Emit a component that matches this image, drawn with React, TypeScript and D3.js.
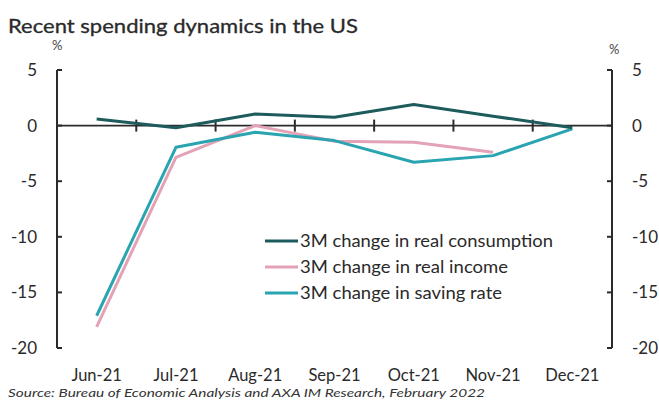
import React from "react";
import * as d3 from "d3";

const categories = ["Jun-21", "Jul-21", "Aug-21", "Sep-21", "Oct-21", "Nov-21", "Dec-21"];
const consumption: (number | null)[] = [0.6, -0.2, 1.05, 0.75, 1.9, 0.85, -0.2];
const realIncome: (number | null)[] = [-18.1, -2.85, 0, -1.4, -1.5, -2.4, null];
const savingRate: (number | null)[] = [-17.1, -1.95, -0.6, -1.35, -3.3, -2.7, -0.3];
const yTicks = [5, 0, -5, -10, -15, -20];
const seriesNames = [
  "3M change in real consumption",
  "3M change in real income",
  "3M change in saving rate",
];
const seriesColors = ["#1e5b5c", "#e3a2b6", "#2aa4b0"];
const legendWidths = [253, 208, 202];

const W = 659;
const H = 401;
const FONT = "Lato, 'Open Sans', sans-serif";

export default function App() {
  const left = 57;
  const right = 612;
  const x = d3.scaleBand<string>().domain(categories).range([left, right]);
  const y = d3.scaleLinear().domain([-20, 5]).range([348, 70]);
  const cx = (c: string) => (x(c) as number) + x.bandwidth() / 2;

  const line = d3
    .line<number | null>()
    .defined((d) => d !== null)
    .x((_, i) => cx(categories[i]))
    .y((d) => y(d as number));

  const series = [consumption, realIncome, savingRate];
  const drawOrder = [1, 2, 0];
  const legendY = [241, 267, 293];

  return (
    <div style={{ position: "absolute", left: 0, top: 0 }}>
      <svg width={W} height={H} style={{ display: "block", background: "#fff" }}>
        <text x={8} y={33} fontFamily={FONT} fontSize={19} fill="#2a2a2a" stroke="#2a2a2a" strokeWidth={0.3} textLength={350} lengthAdjust="spacingAndGlyphs">
          Recent spending dynamics in the US
        </text>
        <text x={52} y={50} fontFamily={FONT} fontSize={13} fill="#444">%</text>
        <text x={609} y={54} fontFamily={FONT} fontSize={13} fill="#444">%</text>

        {/* left axis */}
        <line x1={left} x2={left} y1={y(5)} y2={y(-20)} stroke="#2b2b2b" strokeWidth={2} />
        {yTicks.map((t) => (
          <g key={"l" + t}>
            <line x1={left} x2={left + 5} y1={y(t)} y2={y(t)} stroke="#2b2b2b" strokeWidth={2} />
            <text x={37} y={y(t) + 6} textAnchor="end" fontFamily={FONT} fontSize={17} fill="#2a2a2a">
              {t}
            </text>
          </g>
        ))}
        {/* right axis */}
        <line x1={right} x2={right} y1={y(5)} y2={y(-20)} stroke="#2b2b2b" strokeWidth={2} />
        {yTicks.map((t) => (
          <g key={"r" + t}>
            <line x1={right - 5} x2={right} y1={y(t)} y2={y(t)} stroke="#2b2b2b" strokeWidth={2} />
            <text x={632} y={y(t) + 6} textAnchor="start" fontFamily={FONT} fontSize={17} fill="#2a2a2a">
              {t}
            </text>
          </g>
        ))}

        {/* zero line with category ticks */}
        <line x1={left} x2={right} y1={y(0)} y2={y(0)} stroke="#2b2b2b" strokeWidth={1.6} />
        {categories.slice(1).map((c) => (
          <line key={"t" + c} x1={x(c) as number} x2={x(c) as number} y1={y(0) - 6} y2={y(0) + 6} stroke="#2b2b2b" strokeWidth={2} />
        ))}

        {/* series */}
        {drawOrder.map((i) => (
          <path key={"s" + i} d={line(series[i]) || ""} fill="none" stroke={seriesColors[i]} strokeWidth={3} strokeLinejoin="round" />
        ))}

        {/* x labels */}
        {categories.map((c) => (
          <text key={"x" + c} x={cx(c)} y={381} textAnchor="middle" fontFamily={FONT} fontSize={16.5} fill="#2a2a2a">
            {c}
          </text>
        ))}

        {/* legend */}
        {seriesNames.map((n, i) => (
          <g key={"lg" + i}>
            <line x1={265} x2={298} y1={legendY[i]} y2={legendY[i]} stroke={seriesColors[i]} strokeWidth={3} />
            <text x={300} y={legendY[i] + 6} fontFamily={FONT} fontSize={17.5} fill="#2a2a2a" textLength={legendWidths[i]} lengthAdjust="spacingAndGlyphs">
              {n}
            </text>
          </g>
        ))}

        <text x={8} y={397} fontFamily={FONT} fontSize={12} fontStyle="italic" fill="#333" textLength={477} lengthAdjust="spacingAndGlyphs">
          Source: Bureau of Economic Analysis and AXA IM Research, February 2022
        </text>
      </svg>
    </div>
  );
}
